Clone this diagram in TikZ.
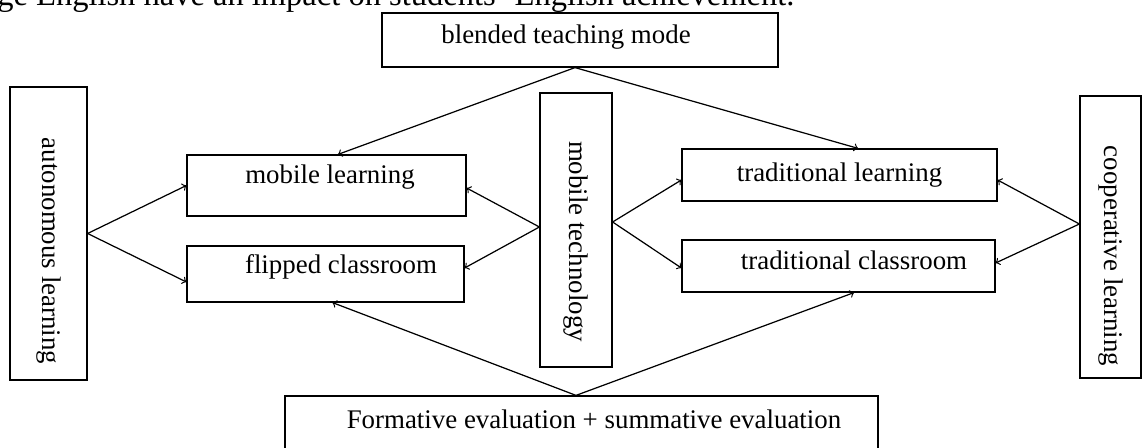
\documentclass[tikz,border=0pt]{standalone}
\usepackage{fontspec}
\setmainfont{Liberation Serif}
\usetikzlibrary{shapes.geometric, arrows, positioning}
\tikzstyle{box} = [rectangle, draw=black, line width=0.7pt, inner sep=0pt, text height=10.5pt, text depth=3.3pt, font=\fontsize{15.3}{18}\selectfont]
\tikzstyle{upright} = [box, rotate=-90]
\tikzstyle{arrow} = [line width=0.7pt,->,>=to]

\begin{document}
\begin{tikzpicture}[x=0.02cm, y=-0.02cm]
    \useasboundingbox (0,0) rectangle (1143,448);
    \clip (0,0) rectangle (1143,448);
    \node (intro) [anchor=base west, inner sep=0pt, font=\fontsize{18.5}{21}\selectfont] at (-3,6) {ge English have an impact on students' English achievement.};
    \node (blended) [box, minimum width=7.92cm, minimum height=1.08cm, text depth=6.7pt] at (580,40) {blended teaching mode\hspace*{0.56cm}};
    \node (auto) [upright, minimum width=5.86cm, minimum height=1.54cm] at (48.5,233.5) {\hspace*{0.7cm}autonomous learning};
    \node (mobile) [box, minimum width=5.58cm, minimum height=1.22cm, text depth=13pt] at (326.5,185.5) {\hspace*{0.14cm}mobile learning};
    \node (flipped) [box, minimum width=5.54cm, minimum height=1.12cm, text depth=11.3pt] at (325.5,274) {\hspace*{0.62cm}flipped classroom};
    \node (mtech) [upright, minimum width=5.48cm, minimum height=1.44cm] at (576,230) {\hspace*{0.46cm}mobile technology};
    \node (tradlearn) [box, minimum width=6.3cm, minimum height=1.04cm] at (839.5,175) {traditional learning};
    \node (tradclass) [box, minimum width=6.26cm, minimum height=1.04cm, text depth=6.7pt] at (838.5,266) {\hspace*{0.62cm}traditional classroom};
    \node (coop) [upright, minimum width=5.64cm, minimum height=1.22cm] at (1110.5,237) {\hspace*{0.76cm}cooperative learning};
    \node (formative) [box, minimum width=11.86cm, minimum height=1.4cm, text depth=13.5pt] at (581.5,431) {\hspace*{0.5cm}Formative evaluation + summative evaluation};
    \draw [arrow] ([xshift=-0.1cm]blended.south) -- ([xshift=0.23cm]mobile.north);
    \draw [arrow] ([xshift=-0.1cm]blended.south) -- ([xshift=0.37cm]tradlearn.north);
    \draw [arrow] (auto.north) -- (mobile.west);
    \draw [arrow] (auto.north) -- ([yshift=-0.16cm]flipped.west);
    \draw [arrow] ([yshift=0.06cm]mtech.south) -- ([yshift=-0.05cm]mobile.east);
    \draw [arrow] ([yshift=0.06cm]mtech.south) -- ([yshift=0.12cm]flipped.east);
    \draw [arrow] ([yshift=0.16cm]mtech.north) -- ([yshift=-0.1cm]tradlearn.west);
    \draw [arrow] ([yshift=0.16cm]mtech.north) -- ([yshift=-0.04cm]tradclass.west);
    \draw [arrow] ([yshift=0.26cm]coop.south) -- ([yshift=-0.1cm]tradlearn.east);
    \draw [arrow] ([yshift=0.26cm]coop.south) -- ([yshift=0.06cm]tradclass.east);
    \draw [arrow] ([xshift=-0.11cm]formative.north) -- ([xshift=0.14cm]flipped.south);
    \draw [arrow] ([xshift=-0.11cm]formative.north) -- ([xshift=0.31cm]tradclass.south);
\end{tikzpicture}
\end{document}
